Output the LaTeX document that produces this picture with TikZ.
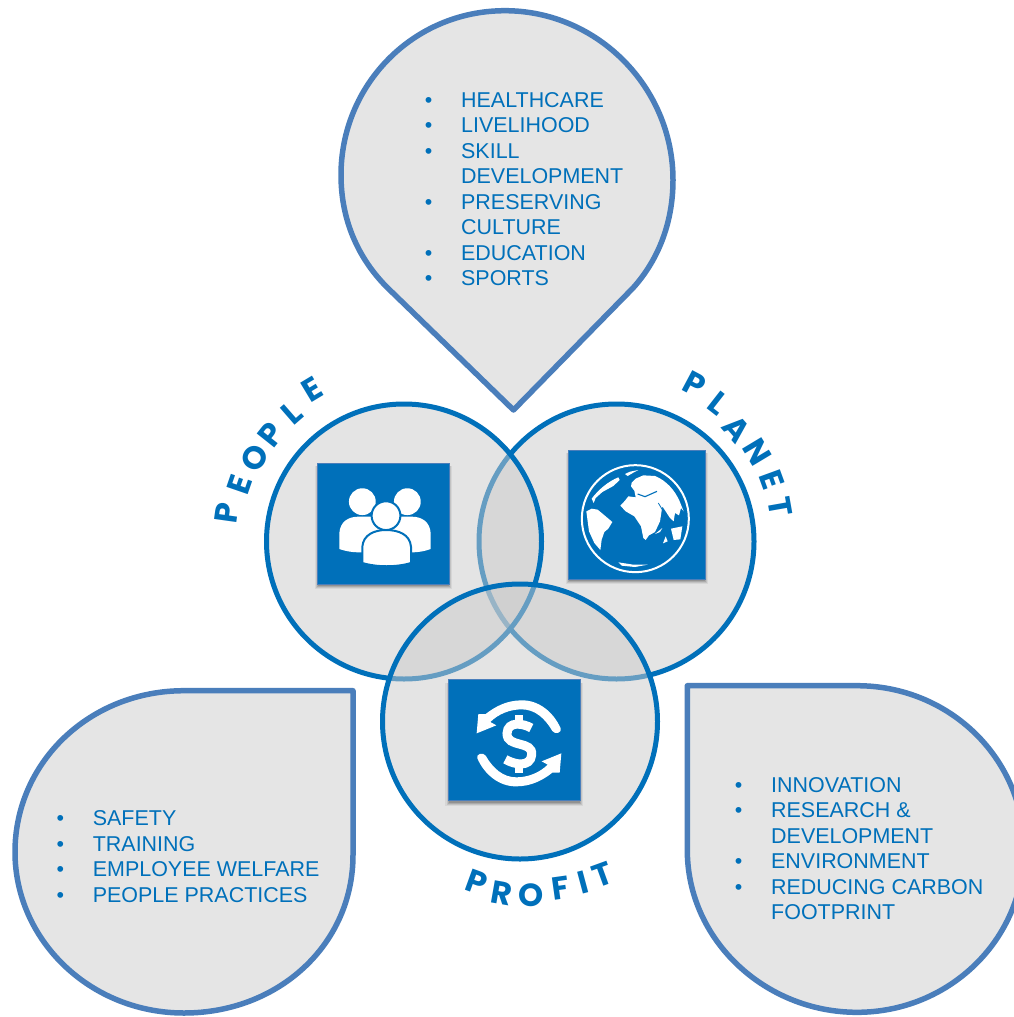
\documentclass[tikz,border=0pt]{standalone}
\usepackage{fontspec}
\setmainfont{Liberation Sans}
\newfontfamily\arcfont{Poppins}
\definecolor{azure}{HTML}{0070BA}
\definecolor{edgeblue}{HTML}{4A7EBB}
\definecolor{dropfill}{HTML}{E5E5E5}
\definecolor{veil}{HTML}{CBCBCB}
\tikzset{
  dropshape/.style={draw=edgeblue,fill=dropfill,line width=5.5pt,line join=round},
  ringcircle/.style={circle,draw=azure,fill=veil,fill opacity=.5,line width=5pt,minimum size=275pt,inner sep=0pt},
  iconsq/.style={rectangle,draw=edgeblue,fill=azure,line width=.9pt,inner sep=0pt},
  listtext/.style={anchor=north west,inner sep=0pt,align=left,text=azure,font=\fontsize{21.45}{25.5}\selectfont},
  arcletter/.style={inner sep=0pt,text=azure,font=\arcfont\bfseries\fontsize{32}{32}\selectfont},
}
\newcommand{\bul}{\makebox[36.4pt][l]{•}}
\newcommand{\nob}{\hspace*{36.4pt}}
\newcommand{\iconbox}[5]{%
  \foreach \d/\o in {0/.14,1/.12,2/.09,3.2/.06}
    \fill[black,opacity=\o] ({#2-#4/2-\d+.5},{#3-#5/2+3}) rectangle ({#2+#4/2+\d-.5},{#3+#5/2+\d+2});
  \node[iconsq,minimum width=#4 pt,minimum height=#5 pt] (#1) at (#2,#3) {};
}
\begin{document}
\begin{tikzpicture}[x=1pt,y=-1pt]
\useasboundingbox (0,0) rectangle (1014,1017);
\fill[white] (0,0) rectangle (1014,1017);
\clip (0,0) rectangle (1014,1017);

% drops
\draw[dropshape] (513.5,410) -- (633,288) .. controls (660,258) and (673,220) .. (673,180)
  .. controls (673,87) and (597,10.7) .. (505,10.7)
  .. controls (413,10.7) and (341,85) .. (341,175)
  .. controls (341,220) and (358,258) .. (386.7,287) -- cycle;
\draw[dropshape] (353,690.7) -- (353,855) .. controls (353,945) and (278,1013) .. (184,1013)
  .. controls (90,1013) and (15,940) .. (15,852)
  .. controls (15,762) and (90,690.7) .. (184,690.7) -- cycle;
\draw[dropshape] (687.3,685.7) -- (857,685.7) .. controls (949,685.7) and (1024,758) .. (1024,849)
  .. controls (1024,940) and (949,1012.3) .. (857,1012.3)
  .. controls (765,1012.3) and (687.3,940) .. (687.3,850) -- cycle;

% rings
\node[ringcircle] (planet) at (616.5,541.5) {};
\node[ringcircle] (people) at (404,541.5) {};
\node[ringcircle] (profit) at (520,721.5) {};

% icon squares
\iconbox{peoplesq}{383.5}{523.5}{132}{121}
\iconbox{planetsq}{637}{514.5}{137}{129}
\iconbox{profitsq}{514}{740}{132}{121}

% people icon
\begin{scope}[shift={(330,475)},x=.33333pt,y=-.33333pt]
  \fill[white] (28,222) -- (28,175) .. controls (30,140) and (55,125) .. (85,125) -- (245,125)
    .. controls (275,125) and (300,140) .. (302,175) -- (302,222)
    .. controls (275,232) and (250,232) .. (245,232) -- (85,232) .. controls (65,232) and (45,228) .. (28,222) -- cycle;
  \fill[white] (97,80) circle (13.4pt) (232,80) circle (13.4pt);
  \draw[azure,line width=2pt,fill=white] (168,122) circle (14.4pt);
  \draw[azure,line width=2pt,fill=white] (97,264) -- (97,215) .. controls (100,178) and (135,165) .. (168,165)
    .. controls (205,165) and (240,178) .. (243,215) -- (243,264)
    .. controls (200,277) and (140,277) .. (97,264) -- cycle;
\end{scope}

% globe icon
\begin{scope}[shift={(575,458)},x=.33333pt,y=-.33333pt]
  \draw[white,line width=2pt] (181,182) circle (53.5pt);
  % Eurasia, Africa
  \fill[white] (170,74) -- (182,62) -- (205,52) -- (240,54) .. controls (275,68) and (300,98) .. (314,130)
    -- (326,160) -- (318,150) -- (312,172) -- (300,165) -- (296,190) -- (285,180) -- (272,160) -- (262,145)
    -- (255,190) -- (240,222) -- (222,232) -- (212,246) -- (205,240) -- (198,205) -- (178,175) -- (152,160) -- (136,143)
    -- (150,128) -- (160,115) -- (182,118) -- (178,98) -- (168,85) -- cycle;
  \draw[azure,line width=1.1pt] (188,108) -- (210,116) -- (246,100);
  \draw[azure,line width=.8pt] (250,135) -- (272,172);
  % South America
  \fill[white] (34,160) -- (50,152) -- (68,155) -- (92,175) -- (112,192) -- (100,212) -- (88,222) -- (80,245) -- (76,276) -- (58,255) -- (42,220) -- cycle;
  % North America band
  \fill[white] (50,122) .. controls (70,95) and (100,70) .. (130,58) -- (134,66) -- (115,84) -- (82,102) -- (62,120) -- (56,135) -- cycle;
  \fill[white] (150,48) -- (165,41) -- (190,36) -- (175,44) -- (158,54) -- cycle;
  % Australia and islands
  \fill[white] (288,212) -- (322,205) -- (316,244) -- (296,246) -- cycle;
  \fill[white] (264,256) -- (272,235) -- (278,250) -- cycle;
  \fill[white] (240,228) -- (262,210) -- (255,222) -- cycle;
  % Antarctica
  \fill[white] (130,313) -- (175,320) -- (218,320) -- (180,327) -- (140,323) -- cycle;
\end{scope}

% profit icon
\begin{scope}[shift={(465,690)},x=.33333pt,y=-.33333pt]
  \foreach \a in {0,180}{
  \begin{scope}[rotate around={\a:(162,160)}]
  \fill[white] (287,115) .. controls (265,65) and (220,30) .. (170,31) .. controls (125,31) and (90,50) .. (62,72)
    -- (40,72) -- (35,130) -- (94,106) -- (76,96) .. controls (100,72) and (135,58) .. (170,58)
    .. controls (210,58) and (240,85) .. (262,123) .. controls (270,135) and (292,128) .. (287,115) -- cycle;
  \end{scope}}
  \draw[white,line width=9pt] (199,114) .. controls (175,100) and (128,92) .. (126,130)
    .. controls (125,175) and (205,150) .. (200,195) .. controls (196,232) and (150,225) .. (121,208);
  \draw[white,line width=8pt] (162,75) -- (162,105) (162,220) -- (162,248);
\end{scope}

% lists
\node[listtext] (toplist) at (424.6,92) {\bul HEALTHCARE\\\bul LIVELIHOOD\\\bul SKILL\\\nob DEVELOPMENT\\\bul PRESERVING\\\nob CULTURE\\\bul EDUCATION\\\bul SPORTS};
\node[listtext] (leftlist) at (56.3,810.5) {\bul SAFETY\\\bul TRAINING\\\bul EMPLOYEE WELFARE\\\bul PEOPLE PRACTICES};
\node[listtext] (rightlist) at (734.6,777) {\bul INNOVATION\\\bul RESEARCH \&\\\nob DEVELOPMENT\\\bul ENVIRONMENT\\\bul REDUCING CARBON\\\nob FOOTPRINT};

% arc letters
\foreach \nm/\ch/\cx/\cy/\rot in {
  pa/P/227/513/82, pb/E/239.3/485/71, pc/O/255/458.3/61, pd/P/270.7/435/51.5, pe/L/291.7/413.3/41, pf/E/311.7/389.3/31,
  la/P/695/384/-28, lb/L/718/403/-38, lc/A/737/429/-49, ld/N/757/452/-59, le/E/772/480/-70, lf/T/780/507/-80,
  fa/P/476.7/882.7/-20, fb/R/502/893/-10, fc/O/531/895/0, fd/F/561/888.5/8, fe/I/583.5/882.5/15, ff/T/603/874.5/20}
  \node[arcletter,rotate=\rot] (\nm) at (\cx,\cy) {\ch};
\end{tikzpicture}
\end{document}
